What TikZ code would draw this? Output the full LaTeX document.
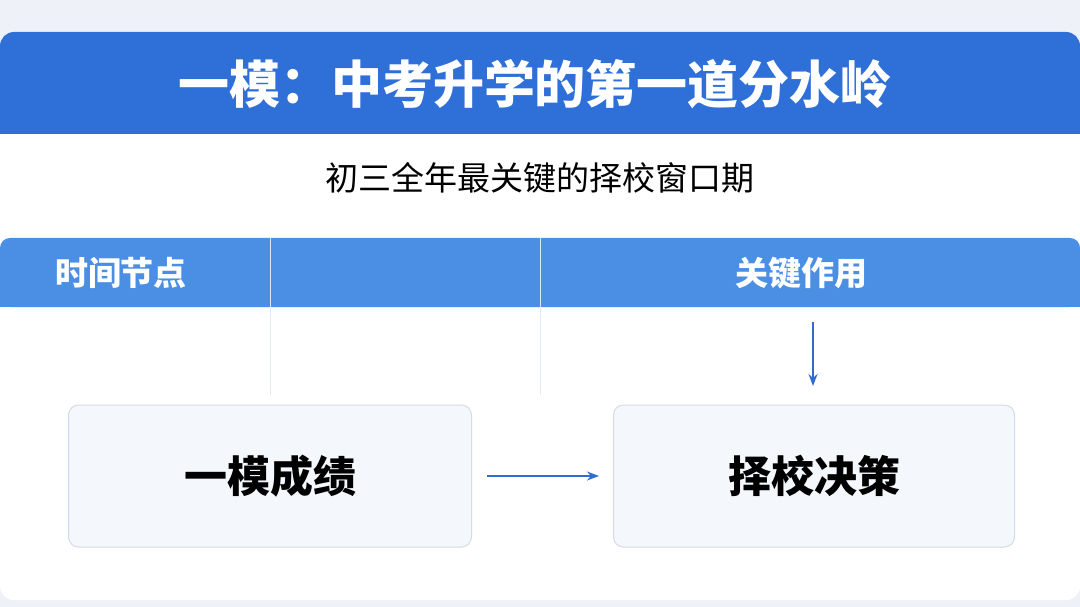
\documentclass[tikz,border=0pt]{standalone}
\usepackage{fontspec}
\newfontfamily\cjk{Noto Sans CJK SC}
\usetikzlibrary{arrows.meta, positioning}
\definecolor{titleblue}{HTML}{2E6FD8}
\definecolor{headblue}{HTML}{4A8FE3}
\definecolor{bgpage}{HTML}{EEF2F8}
\definecolor{boxfill}{HTML}{F4F7FC}
\definecolor{boxline}{HTML}{D3DCEA}
\definecolor{arrowblue}{HTML}{2F6CD0}
\tikzset{
  cell/.style={draw=boxline, fill=boxfill, rounded corners=10pt, line width=1pt},
  headtext/.style={text=white, font=\cjk\bfseries\fontsize{33}{38}\selectfont},
  bigtext/.style={font=\cjk\bfseries\fontsize{43}{48}\selectfont},
  flow/.style={-{Stealth[length=12pt,width=9pt]}, draw=arrowblue, line width=1.5pt}
}
\begin{document}
\begin{tikzpicture}[x=1pt,y=-1pt]
  \useasboundingbox (0,0) rectangle (1080,607);
  \fill[bgpage] (0,0) rectangle (1080,607);
  % card
  \fill[white, rounded corners=14pt] (0,32) rectangle (1080,600);
  \fill[titleblue, rounded corners=14pt] (0,32) rectangle (1080,134);
  \fill[titleblue] (0,110) rectangle (1080,134);
  \node[text=white, font=\cjk\bfseries\fontsize{51}{56}\selectfont] (title) at (535,84) {一模：中考升学的第一道分水岭};
  \node[font=\cjk\fontsize{33}{38}\selectfont] (sub) at (540,178) {初三全年最关键的择校窗口期};
  % table header
  \fill[headblue, rounded corners=10pt] (0,238) rectangle (1080,307);
  \fill[headblue] (0,280) rectangle (1080,307);
  \draw[white!80!headblue, line width=1pt] (270,238) -- (270,307);
  \draw[white!80!headblue, line width=1pt] (540,238) -- (540,307);
  \draw[boxline!60, line width=1pt] (270,307) -- (270,395);
  \draw[boxline!60, line width=1pt] (540,307) -- (540,395);
  \node[headtext] (time) at (121,273) {时间节点};
  \node[headtext] (role) at (801,273) {关键作用};
  % boxes
  \node[cell, minimum width=403pt, minimum height=142pt, bigtext] (score) at (270,476) {一模成绩};
  \node[cell, minimum width=401pt, minimum height=142pt, bigtext] (choice) at (814,476) {择校决策};
  \coordinate (top) at (813,322);
  \coordinate (bottom) at (813,386);
  \draw[flow] (top) -- (bottom);
  \draw[flow] ([xshift=15pt]score.east) -- ([xshift=-14pt]choice.west);
\end{tikzpicture}
\end{document}
